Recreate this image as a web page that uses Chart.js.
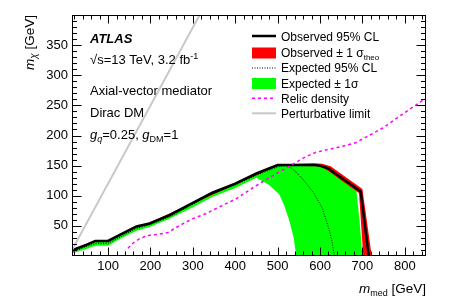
<!DOCTYPE html>
<html><head><meta charset="utf-8">
<script src="https://cdn.jsdelivr.net/npm/chart.js@4.4.1/dist/chart.umd.min.js"></script>
<style>html,body{margin:0;padding:0;background:#fff;}#wrap{width:449px;height:305px;}</style>
</head><body><div id="wrap"><canvas id="c" width="449" height="305"></canvas></div>
<script>
// ---- data ----
const xTicks = [100, 200, 300, 400, 500, 600, 700, 800];
const yTicks = [50, 100, 150, 200, 250, 300, 350];

const obsX = [15, 25, 50, 70, 100, 130, 167, 198, 245, 300, 346, 400, 450, 500, 550, 590, 605, 620, 650, 696, 715];
const obsY = [9, 12, 19, 25, 25, 36, 49, 54, 68, 88, 105, 120, 137, 151, 151, 151, 149, 145, 130, 107, 0];

const expX = [15, 50, 70, 100, 130, 167, 198, 245, 300, 346, 400, 450, 500, 520, 535, 559, 585, 605, 621, 628, 634];
const expY = [7, 16, 21, 21, 32, 46, 52, 65, 86, 103, 118, 134, 148, 150, 145, 128, 105, 80, 45, 25, 0];

const expUpX = [15, 50, 70, 100, 130, 167, 198, 245, 300, 346, 400, 450, 500, 550, 590, 605, 620, 650, 686, 693, 700];
const expUpY = [9, 18, 25, 25, 36, 49, 54, 67, 87, 104, 119, 136, 150, 150, 150, 148, 143, 128, 107, 60, 0];
const expDnX = [544, 538, 527, 515, 504, 480, 450, 400, 346, 300, 245, 198, 167, 130, 100, 70, 50, 15];
const expDnY = [0, 30, 60, 85, 102, 118, 130, 113, 98, 81, 62, 48, 42, 29, 17, 17, 12, 4];

const obsUpX = [15, 70, 100, 167, 198, 300, 500, 585, 605, 625, 700, 722];
const obsUpY = [10, 26, 26, 50, 55, 89, 152, 154, 153, 149, 111, 0];
const obsDnX = [702, 692, 618, 600, 500, 300, 198, 167, 100, 70, 15];
const obsDnY = [0, 104, 142, 149, 150, 87, 53, 48, 24, 24, 8];

const relicX = [147, 160, 175, 194, 218, 241, 270, 300, 330, 370, 402, 450, 500, 530, 567, 590, 640, 684, 747, 800, 850];
const relicY = [13, 22, 29, 34, 36, 39, 51, 62, 70, 84, 95, 117, 138, 150, 165, 172, 180, 188, 212, 238, 262];

const pertX = [15, 316];
const pertY = [10, 400];

// ---- helpers ----
function pts(xs, ys) { return xs.map((x, i) => ({ x: x, y: ys[i] })); }
function poly(ax, ay, bx, by) { return pts(ax.concat(bx), ay.concat(by)); }

const FF = "'Liberation Sans', Arial, Helvetica, sans-serif";
Chart.defaults.font.family = FF;
Chart.defaults.color = '#000';

function rich(ctx, x, y, segs, align) {
  let w = 0;
  segs.forEach(s => { ctx.font = s.f; s.w = ctx.measureText(s.t).width; w += s.w; });
  let cx = align === 'right' ? x - w : x;
  ctx.textAlign = 'left'; ctx.textBaseline = 'alphabetic';
  segs.forEach(s => { ctx.font = s.f; ctx.fillText(s.t, cx, y + (s.dy || 0)); s.x0 = cx; cx += s.w; });
  return segs;
}

const framePlugin = {
  id: 'frame',
  afterDraw(chart) {
    const ctx = chart.ctx, a = chart.chartArea, xs = chart.scales.x, ys = chart.scales.y;
    ctx.save();
    ctx.strokeStyle = '#000'; ctx.lineWidth = 1;
    const L = Math.round(a.left) + 0.5, R = Math.round(a.right) - 0.5, T = Math.round(a.top) + 0.5, B = Math.round(a.bottom) - 0.5;
    ctx.strokeRect(L, T, R - L, B - T);
    ctx.beginPath();
    for (let v = 20; v < 850; v += 20) {
      const p = Math.round(xs.getPixelForValue(v)) + 0.5;
      const len = (v % 100 === 0) ? 8 : 4;
      ctx.moveTo(p, B); ctx.lineTo(p, B - len);
      ctx.moveTo(p, T); ctx.lineTo(p, T + len);
    }
    for (let v = 10; v < 400; v += 10) {
      const p = Math.round(ys.getPixelForValue(v)) + 0.5;
      const len = (v % 50 === 0) ? 9 : 4.5;
      ctx.moveTo(L, p); ctx.lineTo(L + len, p);
      ctx.moveTo(R, p); ctx.lineTo(R - len, p);
    }
    ctx.stroke();

    // texts
    ctx.fillStyle = '#000';
    rich(ctx, 90, 43, [{ t: 'ATLAS', f: 'italic bold 13px ' + FF }]);
    const s1 = rich(ctx, 90, 64, [{ t: '\u221As', f: '13px ' + FF }, { t: '=13 TeV, 3.2 fb', f: '13px ' + FF }, { t: '-1', f: '9px ' + FF, dy: -5 }]);
    rich(ctx, 90, 95, [{ t: 'Axial-vector mediator', f: '13px ' + FF }]);
    rich(ctx, 90, 117, [{ t: 'Dirac DM', f: '13px ' + FF }]);
    rich(ctx, 90, 139, [
      { t: 'g', f: 'italic 13px ' + FF }, { t: 'q', f: 'italic 9px ' + FF, dy: 3 },
      { t: '=0.25, ', f: '13px ' + FF },
      { t: 'g', f: 'italic 13px ' + FF }, { t: 'DM', f: '9px ' + FF, dy: 3 },
      { t: '=1', f: '13px ' + FF }]);

    // x title
    rich(ctx, 426, 293, [{ t: 'm', f: 'italic 13.5px ' + FF }, { t: 'med', f: '9px ' + FF, dy: 3 }, { t: ' [GeV]', f: '13.5px ' + FF }], 'right');
    // y title
    ctx.save();
    ctx.translate(34, 15); ctx.rotate(-Math.PI / 2);
    rich(ctx, 0, 0, [{ t: 'm', f: 'italic 13.5px ' + FF }, { t: '\u03C7', f: 'italic 10px ' + FF, dy: 3 }, { t: ' [GeV]', f: '13.5px ' + FF }], 'right');
    ctx.restore();

    // legend
    const lx0 = 252, lx1 = 276, tx = 281;
    const rows = [36, 52.5, 67.5, 83, 98.3, 113.3];
    ctx.lineCap = 'butt';
    // observed line
    ctx.beginPath(); ctx.strokeStyle = '#000'; ctx.lineWidth = 2.5; ctx.moveTo(lx0, rows[0]); ctx.lineTo(lx1, rows[0]); ctx.stroke();
    ctx.fillStyle = '#ff0000'; ctx.fillRect(lx0, rows[1] - 5, lx1 - lx0, 11);
    ctx.beginPath(); ctx.lineWidth = 1; ctx.setLineDash([1, 1.5]); ctx.moveTo(lx0, rows[2] + 0.5); ctx.lineTo(lx1, rows[2] + 0.5); ctx.stroke(); ctx.setLineDash([]);
    ctx.fillStyle = '#00ff00'; ctx.fillRect(lx0, rows[3] - 5, lx1 - lx0, 11);
    ctx.beginPath(); ctx.strokeStyle = '#ff00ff'; ctx.lineWidth = 1.5; ctx.setLineDash([3, 3]); ctx.moveTo(lx0, rows[4]); ctx.lineTo(lx1, rows[4]); ctx.stroke(); ctx.setLineDash([]);
    ctx.beginPath(); ctx.strokeStyle = '#c8c8c8'; ctx.lineWidth = 2; ctx.moveTo(lx0, rows[5]); ctx.lineTo(lx1, rows[5]); ctx.stroke();
    ctx.fillStyle = '#000';
    const lf = '12px ' + FF;
    rich(ctx, tx, rows[0] + 4.5, [{ t: 'Observed 95% CL', f: lf }]);
    rich(ctx, tx, rows[1] + 4.5, [{ t: 'Observed \u00B1 1 \u03C3', f: lf }, { t: 'theo', f: '8px ' + FF, dy: 3 }]);
    rich(ctx, tx, rows[2] + 4.5, [{ t: 'Expected 95% CL', f: lf }]);
    rich(ctx, tx, rows[3] + 4.5, [{ t: 'Expected \u00B1 1\u03C3', f: lf }]);
    rich(ctx, tx, rows[4] + 4.5, [{ t: 'Relic density', f: lf }]);
    rich(ctx, tx, rows[5] + 4.5, [{ t: 'Perturbative limit', f: lf }]);
    ctx.restore();
  }
};

const lineBase = { showLine: true, pointRadius: 0, tension: 0, fill: false, clip: 0 };

new Chart(document.getElementById('c'), {
  type: 'scatter',
  data: {
    datasets: [
      Object.assign({}, lineBase, { label: 'Perturbative limit', data: pts(pertX, pertY), borderColor: '#c8c8c8', borderWidth: 2, order: 0 }),
      Object.assign({}, lineBase, { label: 'Relic density', data: pts(relicX, relicY), borderColor: '#ff00ff', borderWidth: 1.5, borderDash: [3, 3], order: 1 }),
      Object.assign({}, lineBase, { label: 'Observed 95% CL', data: pts(obsX, obsY), borderColor: '#000', borderWidth: 2.5, order: 2 }),
      Object.assign({}, lineBase, { label: 'Expected 95% CL', data: pts(expX, expY), borderColor: '#000', borderWidth: 1, borderDash: [1, 1.5], order: 3 }),
      Object.assign({}, lineBase, { label: 'Observed \u00B1 1 \u03C3 theo', data: poly(obsUpX, obsUpY, obsDnX, obsDnY), borderColor: 'rgba(0,0,0,0)', borderWidth: 1, backgroundColor: '#ff0000', fill: 'shape', order: 4 }),
      Object.assign({}, lineBase, { label: 'Expected \u00B1 1\u03C3', data: poly(expUpX, expUpY, expDnX, expDnY), borderColor: 'rgba(0,0,0,0)', borderWidth: 1, backgroundColor: '#00ff00', fill: 'shape', order: 5 })
    ]
  },
  options: {
    responsive: false, animation: false, events: [],
    layout: { padding: { top: 15, right: 23, left: 0, bottom: 0 } },
    plugins: { legend: { display: false }, tooltip: { enabled: false } },
    scales: {
      x: {
        type: 'linear', min: 15, max: 850,
        afterBuildTicks: s => { s.ticks = xTicks.map(v => ({ value: v })); },
        afterFit: s => { s.height = 49; },
        grid: { display: false, drawTicks: false }, border: { display: false },
        ticks: { color: '#000', font: { size: 13, family: FF }, padding: 3, maxRotation: 0, autoSkip: false }
      },
      y: {
        type: 'linear', min: 0, max: 400,
        afterBuildTicks: s => { s.ticks = yTicks.map(v => ({ value: v })); },
        afterFit: s => { s.width = 72; },
        grid: { display: false, drawTicks: false }, border: { display: false },
        ticks: { color: '#000', font: { size: 13, family: FF }, padding: 4, autoSkip: false }
      }
    }
  },
  plugins: [framePlugin]
});
</script></body></html>
